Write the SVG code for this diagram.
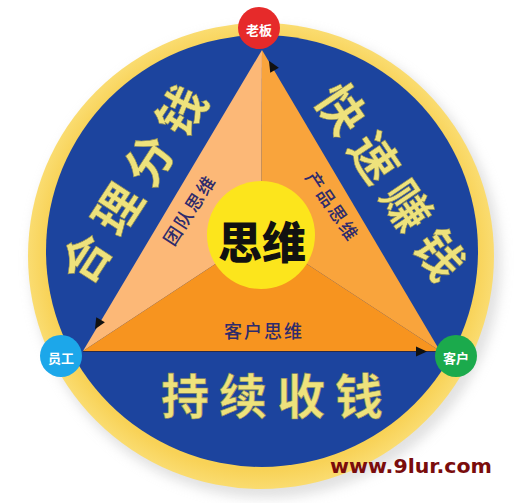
<svg xmlns="http://www.w3.org/2000/svg" width="523" height="503" viewBox="0 0 523 503">
  <defs>
    <filter id="sh" x="-10%" y="-10%" width="120%" height="120%">
      <feGaussianBlur stdDeviation="6"/>
    </filter>
    <radialGradient id="ring" cx="0.5" cy="0.5" r="0.5">
      <stop offset="0.92" stop-color="#F8D257"/>
      <stop offset="1" stop-color="#FADC70"/>
    </radialGradient>
  </defs>
  <style>
    .big { font-family: "Noto Sans CJK SC", sans-serif; font-weight: 700; font-size: 48px; fill: #EEE27C; stroke: #8E8C56; stroke-width: 0.6; text-anchor: middle; dominant-baseline: central; }
    .sub { font-family: "Noto Sans CJK SC", sans-serif; font-weight: 500; font-size: 18px; fill: #2E2B6C; text-anchor: middle; dominant-baseline: central; }
    .badge { font-family: "Noto Sans CJK SC", sans-serif; font-weight: 700; font-size: 13px; fill: #FFFFFF; text-anchor: middle; dominant-baseline: central; }
    .arrow { fill: #111111; }
  </style>
  <rect width="523" height="503" fill="#FFFFFF"/>

  <g id="background">
    <circle cx="266" cy="263" r="235" fill="#C4C4C4" opacity="0.5" filter="url(#sh)"/>
    <circle cx="261" cy="256" r="233" fill="url(#ring)"/>
    <circle cx="262" cy="251" r="216" fill="#1C449E"/>
  </g>

  <g id="triangle">
    <polygon points="262,50 261,234 83,351" fill="#FCB877"/>
    <polygon points="262,50 261,234 440,351" fill="#F9A43C"/>
    <polygon points="83,351 261,234 440,351" fill="#F7941F"/>
    <line x1="83" y1="351.5" x2="440" y2="351.5" stroke="#2A2A4A" stroke-width="1.2"/>
  </g>

  <g id="label-hlfq">
    <text class="big" transform="translate(131,183) rotate(-57)" x="-88 -29 29 88" y="0">合理分钱</text>
  </g>
  <g id="label-kszq">
    <text class="big" transform="translate(393,180) rotate(56)" x="-88 -29 29 88" y="0">快速赚钱</text>
  </g>
  <g id="label-cxsq">
    <text class="big" x="185 243 301 359" y="393">持续收钱</text>
  </g>

  <g id="label-team">
    <text class="sub" transform="translate(188,210) rotate(-57)" x="-30 -10 10 30" y="0">团队思维</text>
  </g>
  <g id="label-product">
    <text class="sub" transform="translate(333,205) rotate(56)" x="-30 -10 10 30" y="0">产品思维</text>
  </g>
  <g id="label-customer">
    <text class="sub" x="264" y="330" font-size="20" letter-spacing="2">客户思维</text>
  </g>

  <g id="center">
    <circle cx="261" cy="235" r="54" fill="#FCE51C"/>
    <text x="262" y="240" font-family="Noto Sans CJK SC, sans-serif" font-weight="900" font-size="44" fill="#111111" text-anchor="middle" dominant-baseline="central">思维</text>
  </g>

  <g id="connectors">
    <polygon class="arrow" transform="translate(272,66) rotate(-120.6)" points="6,0 -5,-5 -5,5"/>
    <polygon class="arrow" transform="translate(98,324) rotate(120.7)" points="6,0 -5,-5 -5,5"/>
    <polygon class="arrow" transform="translate(421,351.5) rotate(0)" points="6,0 -5,-5 -5,5"/>
  </g>

  <g id="node-boss">
    <circle cx="259" cy="28" r="21" fill="#E62A2A"/>
    <text class="badge" x="259" y="29">老板</text>
  </g>
  <g id="node-staff">
    <circle cx="61" cy="356" r="21" fill="#1CA7EA"/>
    <text class="badge" x="61" y="357">员工</text>
  </g>
  <g id="node-customer">
    <circle cx="456" cy="356" r="21" fill="#1BAA4C"/>
    <text class="badge" x="456" y="357">客户</text>
  </g>

  <g id="watermark">
    <text x="330" y="473" font-family="DejaVu Sans, sans-serif" font-weight="700" font-size="20" fill="#7A0C0C" textLength="162" lengthAdjust="spacingAndGlyphs">www.9lur.com</text>
  </g>
</svg>
